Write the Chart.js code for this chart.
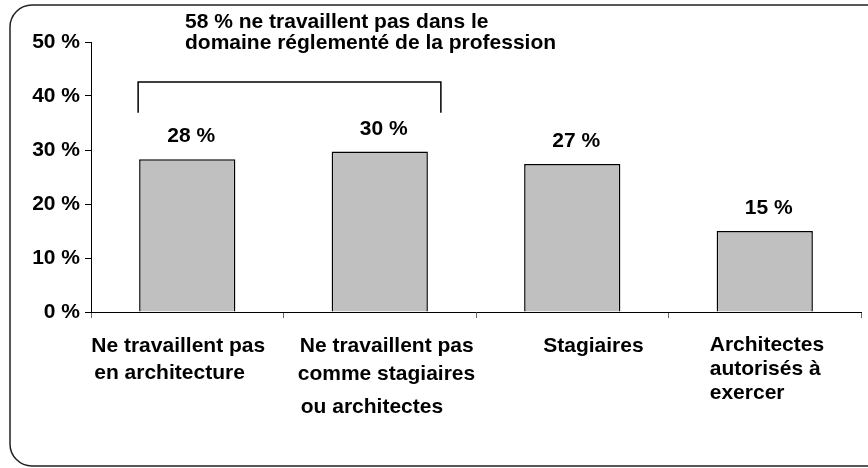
<!doctype html>
<html lang="fr">
<head>
<meta charset="utf-8">
<title>Architectes</title>
<style>
  html, body { margin: 0; padding: 0; background: #fff; }
  #wrap { width: 868px; height: 468px; }
</style>
</head>
<body>
<div id="wrap"><canvas id="myChart" width="868" height="468"></canvas></div>
<script src="https://cdn.jsdelivr.net/npm/chart.js"></script>
<script>
  // data
  const categories = [
    ['Ne travaillent pas', 'en architecture'],
    ['Ne travaillent pas', 'comme stagiaires', 'ou architectes'],
    ['Stagiaires'],
    ['Architectes', 'autorisés à', 'exercer']
  ]
  const values = [28.3, 29.7, 27.4, 15.0]
  const valueLabels = ['28 %', '30 %', '27 %', '15 %']
  const yTicks = [0, 10, 20, 30, 40, 50]
  const titleLines = ['58 % ne travaillent pas dans le', 'domaine réglementé de la profession']

  const FONT = '"Liberation Sans", Arial, sans-serif'

  // where each x label starts (relative to category centre) and its line baselines
  const labelPos = [
    { dx: -96, lines: [352, 379], indent: [0, 3] },
    { dx: -80, lines: [352, 380, 413], indent: [0, -2, 1] },
    { dx: -29, lines: [352], indent: [0] },
    { dx: -55, lines: [351, 375, 399], indent: [0, 0, 0] }
  ]

  const extras = {
    id: 'extras',
    afterDraw(chart) {
      const ctx = chart.ctx
      const meta = chart.getDatasetMeta(0)
      const xs = chart.scales.x
      ctx.save()

      // rounded frame (right side runs off the picture)
      ctx.strokeStyle = '#222'
      ctx.lineWidth = 1.5
      ctx.beginPath()
      ctx.roundRect(10, 5, 880, 461, 22)
      ctx.stroke()

      ctx.fillStyle = '#000'
      ctx.font = 'bold 21px ' + FONT
      ctx.textBaseline = 'alphabetic'

      // heading
      ctx.textAlign = 'left'
      ctx.fillText(titleLines[0], 185, 28)
      ctx.fillText(titleLines[1], 185, 49)

      // bracket over the first two bars
      const b1 = meta.data[0], b2 = meta.data[1]
      const left = b1.x - b1.width / 2 - 1
      const right = b2.x + b2.width / 2 + 13
      const yTop = chart.scales.y.getPixelForValue(42.6)
      const yBot = chart.scales.y.getPixelForValue(36.9)
      ctx.strokeStyle = '#000'
      ctx.lineWidth = 1.5
      ctx.beginPath()
      ctx.moveTo(left, yBot)
      ctx.lineTo(left, yTop)
      ctx.lineTo(right, yTop)
      ctx.lineTo(right, yBot)
      ctx.stroke()

      // value labels
      ctx.textAlign = 'center'
      meta.data.forEach((bar, i) => {
        ctx.fillText(valueLabels[i], bar.x + 4, bar.y - 17)
      })

      // category labels
      ctx.textAlign = 'left'
      categories.forEach((lines, i) => {
        const cx = xs.getPixelForValue(i)
        const p = labelPos[i]
        lines.forEach((t, j) => ctx.fillText(t, cx + p.dx + p.indent[j], p.lines[j]))
      })
      ctx.restore()
    }
  }

  const myChart = new Chart(document.getElementById('myChart'), {
    type: 'bar',
    data: {
      labels: categories.map(c => c.join(' ')),
      datasets: [{
        data: values,
        backgroundColor: '#c0c0c0',
        borderColor: '#000',
        borderWidth: 1.5,
        barPercentage: 0.5,
        categoryPercentage: 1.0
      }]
    },
    options: {
      responsive: false,
      animation: false,
      layout: { padding: { left: 0, top: 42, right: 7, bottom: 150 } },
      plugins: { legend: { display: false }, tooltip: { enabled: false } },
      scales: {
        x: {
          grid: { drawOnChartArea: false, color: '#666', tickLength: 6 },
          border: { color: '#000', width: 1 },
          ticks: { display: false },
          afterFit(scale) { scale.height = 6 }
        },
        y: {
          min: 0,
          max: 50,
          afterBuildTicks(scale) { scale.ticks = yTicks.map(v => ({ value: v })) },
          grid: { drawOnChartArea: false, color: '#000', tickLength: 6 },
          border: { color: '#000', width: 1 },
          ticks: {
            padding: 5,
            color: '#000',
            font: { family: FONT, size: 21, weight: 'bold' },
            callback: v => v + ' %'
          },
          afterFit(scale) { scale.width = 91 }
        }
      }
    },
    plugins: [extras]
  })
</script>
</body>
</html>
